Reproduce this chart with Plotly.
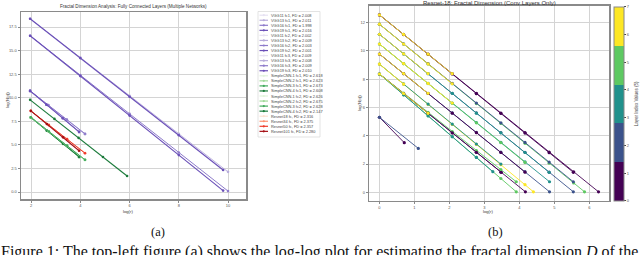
import plotly.graph_objects as go

W, H = 640, 255
def PX(x): return x / W
def PY(y): return 1 - y / H

# ---------------- Panel (a): fully connected layers ----------------
fc_names = ["VGG11 fc1", "VGG13 fc1", "VGG16 fc1", "VGG19 fc1",
            "VGG11 fc2", "VGG13 fc2", "VGG16 fc2", "VGG19 fc2",
            "VGG11 fc3", "VGG13 fc3", "VGG16 fc3", "VGG19 fc3",
            "SimpleCNN-1 fc1", "SimpleCNN-2 fc1", "SimpleCNN-3 fc1", "SimpleCNN-4 fc1",
            "SimpleCNN-1 fc2", "SimpleCNN-2 fc2", "SimpleCNN-3 fc2", "SimpleCNN-4 fc2",
            "Resnet18 fc", "Resnet34 fc", "Resnet50 fc", "Resnet101 fc"]
fc_fd = [2.008, 2.011, 1.998, 2.016, 2.002, 2.009, 2.003, 2.001, 2.009, 2.008, 2.009, 2.010,
         2.618, 2.623, 2.673, 2.608, 2.626, 2.675, 2.628, 2.147,
         2.316, 2.375, 2.357, 2.280]
fc_x = [
    [1.96, 2.62, 3.29, 3.95], [1.96, 4.0, 6.0, 8.0, 10.0], [1.96, 4.0, 6.0, 8.0, 10.0], [1.96, 4.0, 6.0, 8.0, 9.8],
    [1.96, 2.70, 3.45, 4.19], [1.96, 2.70, 3.45, 4.19], [1.96, 2.62, 3.29, 3.95], [1.96, 4.0, 6.0, 8.0, 9.8],
    [1.96, 2.62, 3.29, 3.95], [1.96, 2.62, 3.29, 3.95], [1.96, 2.70, 3.45, 4.19], [1.96, 2.62, 3.29, 3.95],
    [1.99, 2.64, 3.30, 3.95], [1.99, 2.72, 3.46, 4.19], [1.99, 2.64, 3.30, 3.95], [1.99, 2.64, 3.30, 3.95],
    [1.99, 2.72, 3.46, 4.19], [1.99, 2.72, 3.46, 4.19], [1.99, 2.72, 3.46, 4.19], [1.96, 2.95, 3.93, 4.92, 5.90],
    [1.99, 2.64, 3.30, 3.95], [1.99, 2.72, 3.46, 4.19], [1.99, 2.72, 3.46, 4.19], [1.99, 2.64, 3.30, 3.95],
]
fc_y = [
    [10.73, 9.28, 7.83, 6.38], [18.38, 14.26, 10.22, 6.18, 2.14], [16.58, 12.40, 8.30, 4.20, 0.10], [18.38, 14.21, 10.11, 6.02, 2.34],
    [10.73, 9.21, 7.68, 6.16], [10.73, 9.19, 7.66, 6.14], [10.73, 9.26, 7.80, 6.36], [16.58, 12.30, 8.11, 3.92, 0.15],
    [10.70, 9.25, 7.81, 6.36], [10.73, 9.30, 7.85, 6.40], [10.73, 9.22, 7.70, 6.18], [10.73, 9.27, 7.82, 6.38],
    [7.92, 6.52, 5.12, 3.72], [7.92, 6.41, 4.91, 3.40], [7.90, 6.50, 5.10, 3.70], [7.92, 6.53, 5.14, 3.75],
    [7.92, 6.40, 4.90, 3.40], [7.94, 6.43, 4.93, 3.43], [7.92, 6.42, 4.92, 3.42], [9.78, 7.76, 5.74, 3.72, 1.70],
    [8.61, 7.20, 5.78, 4.36], [8.61, 7.12, 5.63, 4.14], [8.60, 7.10, 5.61, 4.12], [8.61, 7.21, 5.80, 4.38],
]
vgg_shades = ["#e6e1f2", "#b7acdb", "#8e7bcb", "#6a4fb8"]
cnn_shades = ["#e0f3db", "#a1d99b", "#41ab5d", "#1a7a3a"]
res_shades = ["#fee0d2", "#fc9272", "#ef3b2c", "#a50f15"]
fc_colors = vgg_shades * 3 + cnn_shades * 2 + res_shades
fc_xticks = [2, 4, 6, 8, 10]
fc_yticks = [0, 2.5, 5, 7.5, 10, 12.5, 15, 17.5]

# ---------------- Panel (b): Resnet-18 conv layers ----------------
cv_x = [
    [0, 0.69, 1.39, 2.08, 2.77, 3.47, 4.16, 4.85, 5.55, 6.26],
    [0, 0.69, 1.39, 2.08, 2.77, 3.47, 4.16, 4.85, 5.54],
    [0, 0.69, 1.39, 2.08, 2.77, 3.47, 4.16, 4.85, 5.55, 5.86],
    [0, 0.69, 1.39, 2.08, 2.77, 3.47, 4.16, 4.85, 5.54],
    [0, 0.69, 1.39, 2.08, 2.77, 3.47, 4.16, 4.85, 5.54],
    [0, 0.69, 1.39, 2.08, 2.77, 3.47, 4.16, 4.85],
    [0, 0.69, 1.39, 2.08, 2.77, 3.47, 4.16, 4.86],
    [0, 0.69, 1.39, 2.08, 2.77, 3.47, 4.16],
    [0, 0.69, 1.39, 2.08, 2.77, 3.47, 4.16, 4.86],
    [0, 0.69, 1.39, 2.08, 2.77, 3.47, 4.16],
    [0, 0.69, 1.39, 2.08, 2.77, 3.47, 4.16, 4.40],
    [0, 0.69, 1.39, 2.08, 2.77, 3.47],
    [0, 0.69, 1.39, 2.08, 2.77, 3.47, 4.17],
    [0, 0.69, 1.39, 2.08, 2.77, 3.47, 3.91],
    [0, 0.69, 1.39, 2.08, 2.77, 3.48],
    [0, 0.69, 1.39, 2.08, 2.77, 3.47, 3.91],
    [0, 0.69, 1.39, 2.08, 2.77, 3.24],
    [0, 0.71],
    [0, 1.11],
    [0, 0.69, 1.39, 2.08],
    [0, 0.69, 1.39, 2.08],
    [0, 0.69, 1.39],
    [0, 0.69, 1.39, 2.08],
    [0, 0.69, 1.39],
    [0, 0.69],
    [0, 0.69, 1.39],
]
cv_y = [
    [12.55, 11.17, 9.77, 8.39, 7.01, 5.61, 4.23, 2.85, 1.45, 0.04],
    [12.55, 11.16, 9.76, 8.37, 6.98, 5.59, 4.19, 2.80, 1.42],
    [11.89, 10.49, 9.08, 7.68, 6.28, 4.87, 3.47, 2.06, 0.66, 0.04],
    [11.89, 10.50, 9.10, 7.71, 6.32, 4.92, 3.53, 2.14, 0.75],
    [11.18, 9.80, 8.40, 7.01, 5.62, 4.22, 2.83, 1.43, 0.04],
    [11.18, 9.79, 8.39, 7.00, 5.60, 4.21, 2.82, 1.42],
    [10.49, 9.11, 7.70, 6.32, 4.94, 3.53, 2.15, 0.75],
    [10.49, 9.10, 7.69, 6.30, 4.92, 3.52, 2.12],
    [9.78, 8.40, 7.00, 5.62, 4.24, 2.84, 1.46, 0.04],
    [9.78, 8.39, 6.99, 5.60, 4.22, 2.82, 1.43],
    [9.07, 7.66, 6.22, 4.80, 3.39, 1.96, 0.54, 0.04],
    [9.07, 7.67, 6.24, 4.83, 3.42, 2.00],
    [8.37, 6.99, 5.59, 4.21, 2.83, 1.43, 0.04],
    [8.37, 7.02, 5.65, 4.30, 2.95, 1.61, 0.75],
    [8.37, 6.99, 5.59, 4.21, 2.83, 1.42],
    [8.37, 6.90, 5.41, 3.94, 2.47, 0.98, 0.04],
    [8.37, 6.90, 5.41, 3.94, 2.47, 1.46],
    [5.31, 3.51],
    [5.31, 3.11],
    [12.55, 11.17, 9.77, 8.39],
    [11.89, 10.49, 9.08, 7.68],
    [11.18, 9.80, 8.40],
    [10.49, 9.11, 7.70, 6.32],
    [9.78, 8.40, 7.00],
    [9.07, 7.66],
    [8.37, 6.99, 5.59],
]
cv_val = [0.7, 1.0, 4.9, 2.1, 1.9, 3.5, 3.3, 5.0, 2.3, 0.9, 6.5, 3.6, 0.6, 5.0, 1.1, 4.6, 3.2,
          0.5, 1.8, 6.3, 6.3, 6.3, 6.3, 6.3, 6.3, 6.3]
cv_xticks = [0, 1, 2, 3, 4, 5, 6]
cv_yticks = [0, 2, 4, 6, 8, 10, 12]
cb_ticks = [0, 1, 2, 3, 4, 5, 6, 7]
viridis5 = ["#440154", "#3b528b", "#21918c", "#5ec962", "#fde725"]
CMIN, CMAX = 0, 7

fig = go.Figure()

for i in range(len(fc_names)):
    shade = i % 4 if i < 20 else (i - 20)
    lw = [0.8, 0.9, 1.0, 1.1][shade]
    fig.add_trace(go.Scatter(
        x=fc_x[i], y=fc_y[i], mode="lines+markers", xaxis="x", yaxis="y",
        line=dict(color=fc_colors[i], width=lw),
        marker=dict(color=fc_colors[i], size=2.6),
        showlegend=False, hoverinfo="skip"))

dscale = []
for k, c in enumerate(viridis5):
    dscale.append([k / 5, c]); dscale.append([(k + 1) / 5, c])

for i in range(len(cv_x)):
    band = min(int((cv_val[i] - CMIN) / (CMAX - CMIN) * 5), 4)
    col = viridis5[band]
    mk = dict(color=[cv_val[i]] * len(cv_x[i]), colorscale=dscale, cmin=CMIN, cmax=CMAX, size=3.2)
    if i == 0:
        mk.update(showscale=True, colorbar=dict(
            x=PX(614), xanchor="left", xref="paper", y=PY((6.7 + 201) / 2), yanchor="middle", yref="paper",
            len=(201 - 6.7) / H, lenmode="fraction", thickness=10, thicknessmode="pixels",
            xpad=0, ypad=0,
            outlinecolor="#888", outlinewidth=1, tickvals=cb_ticks, ticks="outside", ticklen=2,
            tickfont=dict(size=4, color="#555", family="Liberation Sans"),
            title=dict(text="Layer Index Values (5)", side="right",
                       font=dict(size=4.5, color="#444", family="Liberation Sans"))))
    fig.add_trace(go.Scatter(
        x=cv_x[i], y=cv_y[i], mode="lines+markers", xaxis="x2", yaxis="y2",
        line=dict(color=col, width=0.9), marker=mk, showlegend=False, hoverinfo="skip"))

axfont = dict(size=4, color="#555", family="Liberation Sans")
common = dict(showline=True, mirror=True, linecolor="#8a8a8a", linewidth=1.5, showgrid=True,
              gridcolor="#d4d4d4", gridwidth=1, zeroline=False, ticks="outside", ticklen=2,
              tickcolor="#8a8a8a", tickfont=axfont)

fig.update_layout(
    width=W, height=H, margin=dict(l=0, r=0, t=0, b=0),
    paper_bgcolor="white", plot_bgcolor="white", showlegend=False,
    xaxis=dict(domain=[PX(21), PX(246)], range=[1.59, 10.73], tickvals=fc_xticks, anchor="y", **common),
    yaxis=dict(domain=[PY(199), PY(12)], range=[-0.74, 19.1], tickvals=fc_yticks, tickformat=".1f", anchor="x", **common),
    xaxis2=dict(domain=[PX(369.3), PX(609)], range=[-0.29, 6.56], tickvals=cv_xticks, anchor="y2", **common),
    yaxis2=dict(domain=[PY(200.7), PY(5.7)], range=[-0.59, 13.2], tickvals=cv_yticks, anchor="x2", **common),
)

ann = []
def text(x, y, s, size, color="#333", family="Liberation Sans", angle=0, xa="center", ya="middle"):
    ann.append(dict(x=PX(x), y=PY(y), xref="paper", yref="paper", text=s, showarrow=False,
                    font=dict(size=size, color=color, family=family), textangle=angle,
                    xanchor=xa, yanchor=ya, borderpad=0))

text(133.5, 6, "Fractal Dimension Analysis: Fully Connected Layers (Multiple Networks)", 4.6)
text(489, 3, "Resnet-18: Fractal Dimension (Conv Layers Only)", 6)
text(128, 211, "log(r)", 4.2)
text(488, 211, "log(r)", 4.2)
text(8, 100, "log(N(r))", 4.2, angle=-90)
text(359, 103, "log(N(r))", 4.2, angle=-90)
text(158, 232, "(a)", 12.5, color="#111", family="Liberation Serif")
text(495, 232, "(b)", 12.5, color="#111", family="Liberation Serif")
text(0, 241.5, "Figure 1: The top-left figure (a) shows the log-log plot for estimating the fractal dimension <i>D</i> of the",
     16, color="#111", family="Liberation Serif", xa="left", ya="top")

shapes = [dict(type="rect", xref="paper", yref="paper", x0=PX(258), x1=PX(320), y0=PY(137), y1=PY(11.5),
               line=dict(color="#dcdcdc", width=0.8), fillcolor="white", layer="above")]
for i, nm in enumerate(fc_names):
    yy = 15.2 + 5.05 * i
    shapes.append(dict(type="line", xref="paper", yref="paper", x0=PX(259.5), x1=PX(268), y0=PY(yy), y1=PY(yy),
                       line=dict(color=fc_colors[i], width=1.2), layer="above"))
    shapes.append(dict(type="circle", xref="paper", yref="paper", x0=PX(262.7), x1=PX(264.9),
                       y0=PY(yy + 1.1), y1=PY(yy - 1.1), line=dict(width=0), fillcolor=fc_colors[i], layer="above"))
    text(269.5, yy, f"{nm}, FD = {fc_fd[i]:.3f}", 3.9, color="#444", xa="left")

fig.update_layout(annotations=ann, shapes=shapes)
fig.write_html("out.html", config={"displayModeBar": False, "staticPlot": True},
               post_script="document.body.style.margin='0px';document.body.style.overflow='hidden';")
